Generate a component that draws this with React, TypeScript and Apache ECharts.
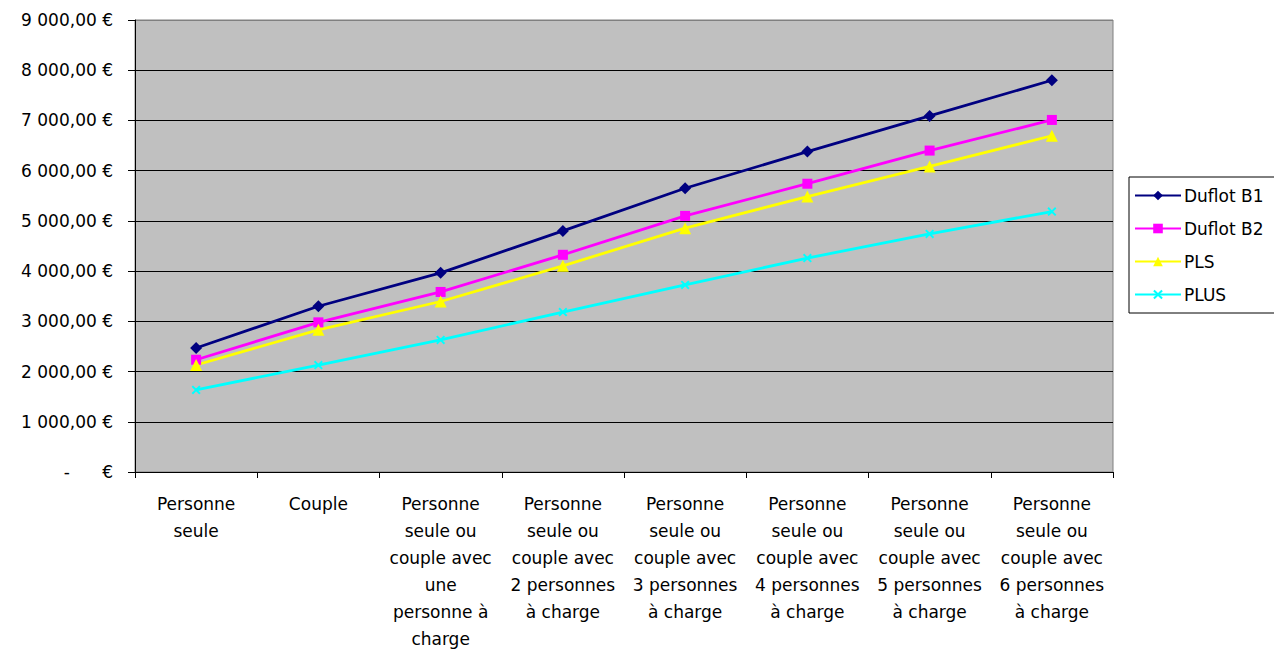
import React, { useEffect, useRef } from "react";
import * as echarts from "echarts";

const categories = [
  "Personne\nseule",
  "Couple",
  "Personne\nseule ou\ncouple avec\nune\npersonne à\ncharge",
  "Personne\nseule ou\ncouple avec\n2 personnes\nà charge",
  "Personne\nseule ou\ncouple avec\n3 personnes\nà charge",
  "Personne\nseule ou\ncouple avec\n4 personnes\nà charge",
  "Personne\nseule ou\ncouple avec\n5 personnes\nà charge",
  "Personne\nseule ou\ncouple avec\n6 personnes\nà charge",
];

const duflotB1 = [2470, 3300, 3965, 4800, 5650, 6380, 7090, 7800];
const duflotB2 = [2235, 2980, 3585, 4325, 5100, 5740, 6400, 7010];
const pls = [2130, 2830, 3395, 4105, 4855, 5485, 6085, 6695];
const plus = [1635, 2130, 2630, 3185, 3725, 4260, 4740, 5185];

const yMin = 0;
const yMax = 9000;
const yStep = 1000;

const FONT = "'DejaVu Sans', Verdana, sans-serif";

const crossPath =
  "path://M0,1.5 L1.5,0 L5,3.5 L8.5,0 L10,1.5 L6.5,5 L10,8.5 L8.5,10 L5,6.5 L1.5,10 L0,8.5 L3.5,5 Z";

function fmtEuro(v: number): string {
  if (v === 0) return "-      €";
  const s = Math.round(v).toString().replace(/\B(?=(\d{3})+(?!\d))/g, " ");
  return s + ",00 €";
}

export default function App() {
  const ref = useRef<HTMLDivElement>(null);
  useEffect(() => {
    if (!ref.current) return;
    const chart = echarts.init(ref.current, null, { renderer: "svg" });
    const gridColors = [] as string[];
    for (let i = 0; i < 9; i++) gridColors.push("#000000");
    gridColors.push("#808080");
    const mk = (name: string, data: number[], color: string, symbol: string, size: number) => ({
      name,
      type: "line",
      data,
      symbol,
      symbolSize: size,
      showSymbol: true,
      lineStyle: { color, width: 2.8 },
      itemStyle: { color, borderColor: color, borderWidth: 0 },
      emphasis: { disabled: true },
    });
    chart.setOption({
      animation: false,
      backgroundColor: "#ffffff",
      textStyle: { fontFamily: FONT, color: "#000" },
      grid: {
        left: 135,
        top: 20,
        right: 161,
        bottom: 179,
        show: true,
        backgroundColor: "#C0C0C0",
        borderColor: "#808080",
        borderWidth: 1,
      },
      legend: {
        orient: "vertical",
        left: 1129,
        top: 177,
        itemWidth: 46,
        itemHeight: 12,
        itemGap: 16,
        padding: [10, 40, 10, 5],
        borderColor: "#000",
        borderWidth: 1,
        backgroundColor: "#fff",
        textStyle: { fontFamily: FONT, fontSize: 17, color: "#000", padding: [0, 0, 0, -2] },
        data: ["Duflot B1", "Duflot B2", "PLS", "PLUS"],
      },
      xAxis: {
        type: "category",
        data: categories,
        boundaryGap: true,
        axisLine: { lineStyle: { color: "#000", width: 1 } },
        axisTick: { show: true, length: 6, interval: 0, lineStyle: { color: "#000" } },
        axisLabel: {
          interval: 0,
          margin: 18,
          fontFamily: FONT,
          fontSize: 17,
          lineHeight: 27,
          color: "#000",
          align: "center",
        },
        splitLine: { show: false },
      },
      yAxis: {
        type: "value",
        min: yMin,
        max: yMax,
        interval: yStep,
        axisLine: { show: true, lineStyle: { color: "#000", width: 1 } },
        axisTick: { show: true, length: 7, lineStyle: { color: "#000" } },
        axisLabel: {
          margin: 22,
          fontFamily: FONT,
          fontSize: 17,
          color: "#000",
          formatter: (v: number) => fmtEuro(v),
        },
        splitLine: { show: true, lineStyle: { color: gridColors, width: 1 } },
      },
      series: [
        mk("Duflot B1", duflotB1, "#000080", "diamond", 12),
        mk("Duflot B2", duflotB2, "#FF00FF", "rect", 10),
        mk("PLS", pls, "#FFFF00", "triangle", 12),
        mk("PLUS", plus, "#00FFFF", crossPath, 9),
      ],
    });
    return () => chart.dispose();
  }, []);
  return (
    <div
      ref={ref}
      style={{ position: "absolute", left: 0, top: 0, width: 1274, height: 652, overflow: "hidden" }}
    />
  );
}
